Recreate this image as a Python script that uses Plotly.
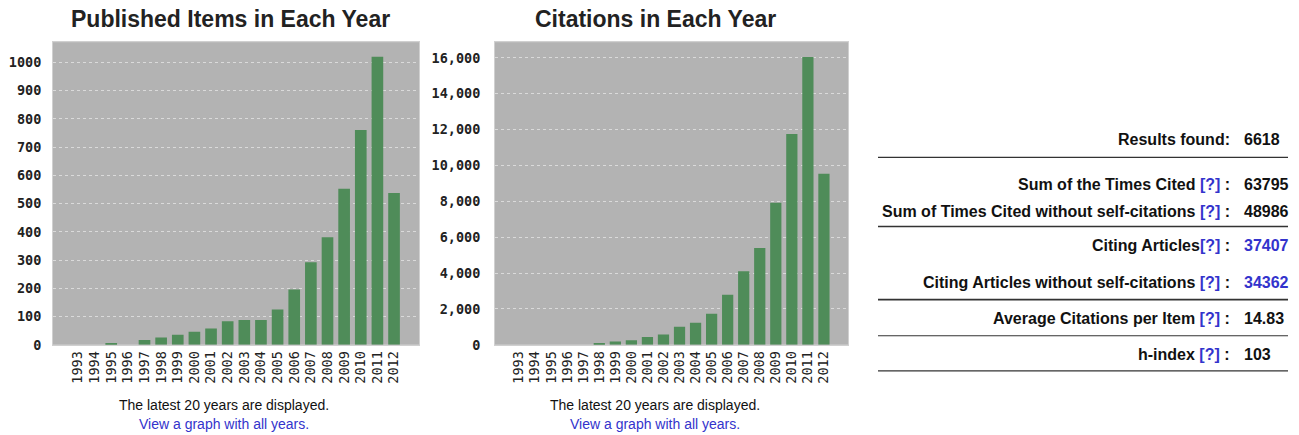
import plotly.graph_objects as go

W, H = 1299, 435
FIG_H = 444  # page is shown slightly compressed vertically; compensate

years = [str(y) for y in range(1993, 2013)]
published = [0, 0, 5, 0, 17, 26, 36, 46, 58, 83, 88, 88, 125, 196, 292, 381, 553, 761, 1020, 538]
citations = [0, 0, 0, 0, 0, 90, 186, 260, 428, 577, 1006, 1229, 1732, 2793, 4097, 5400, 7914, 11750, 16052, 9534]

chart_titles = ["Published Items in Each Year", "Citations in Each Year"]
note_text = "The latest 20 years are displayed."
link_text = "View a graph with all years."

stat_labels = ["Results found:", "Sum of the Times Cited [?] :",
               "Sum of Times Cited without self-citations [?] :",
               "Citing Articles[?] :", "Citing Articles without self-citations [?] :",
               "Average Citations per Item [?] :", "h-index [?] :"]
stat_values = ["6618", "63795", "48986", "37407", "34362", "14.83", "103"]
stat_value_colors = ["#111", "#111", "#111", "#3333cc", "#3333cc", "#111", "#111"]

def px(x):
    return x / W

def py(y):
    return 1 - y / H

BAR = "#4f8c59"
BG = "#b3b3b3"

fig = go.Figure()
fig.add_trace(go.Bar(x=years, y=published, marker=dict(color=BAR, line=dict(width=0)),
                     width=0.7, xaxis="x", yaxis="y", showlegend=False))
fig.add_trace(go.Bar(x=years, y=citations, marker=dict(color=BAR, line=dict(width=0)),
                     width=0.7, xaxis="x2", yaxis="y2", showlegend=False))

xcommon = dict(type="category", tickangle=-90, showgrid=False, ticks="", range=[-1.5, 20.5],
               tickmode="array", tickvals=years, ticktext=years,
               tickfont=dict(family="DejaVu Sans Mono", size=13.5, color="#222"),
               showline=True, linecolor="#d0d0d0", mirror=True, fixedrange=True)
ycommon = dict(showgrid=True, gridcolor="#dadada", griddash="dot", gridwidth=1, zeroline=False,
               tickfont=dict(family="DejaVu Sans Mono", size=13.5, color="#222", weight="bold"),
               showline=True, linecolor="#d0d0d0", mirror=True, ticks="", fixedrange=True)

fig.update_layout(
    width=W, height=FIG_H, margin=dict(l=0, r=0, t=0, b=0),
    paper_bgcolor="white", plot_bgcolor=BG, bargap=0.3,
    xaxis=dict(xcommon, domain=[px(53), px(419)], anchor="y"),
    yaxis=dict(ycommon, domain=[py(344), py(42)], range=[0, 1072], dtick=100, anchor="x",
               ticklabelstandoff=8),
    xaxis2=dict(xcommon, domain=[px(495), px(848)], anchor="y2"),
    yaxis2=dict(ycommon, domain=[py(344), py(42)], range=[0, 16877], dtick=2000,
                tickformat=",d", anchor="x2", ticklabelstandoff=11),
)

anns = []
for title, cx in zip(chart_titles, [230, 655]):
    anns.append(dict(text=title, x=px(cx), y=py(19), xref="paper", yref="paper",
                     showarrow=False, xanchor="center", yanchor="middle",
                     font=dict(family="Liberation Sans", size=23, color="#222", weight="bold")))
for cx in [224, 655]:
    anns.append(dict(text=note_text, x=px(cx), y=py(404), xref="paper", yref="paper",
                     showarrow=False, xanchor="center", yanchor="middle",
                     font=dict(family="Liberation Sans", size=14, color="#111")))
    anns.append(dict(text=link_text, x=px(cx), y=py(423), xref="paper", yref="paper",
                     showarrow=False, xanchor="center", yanchor="middle",
                     font=dict(family="Liberation Sans", size=14, color="#3333cc")))

row_y = [139, 184, 211, 245, 282, 318, 354]
for lab, val, vc, ry in zip(stat_labels, stat_values, stat_value_colors, row_y):
    lab_html = lab.replace("[?]", '<span style="color:#3333cc">[?]</span>')
    anns.append(dict(text=lab_html, x=px(1232), y=py(ry), xref="paper", yref="paper",
                     showarrow=False, xanchor="right", yanchor="middle",
                     font=dict(family="Liberation Sans", size=16, color="#111", weight="bold")))
    anns.append(dict(text=val, x=px(1242), y=py(ry), xref="paper", yref="paper",
                     showarrow=False, xanchor="left", yanchor="middle",
                     font=dict(family="Liberation Sans", size=16, color=vc, weight="bold")))

shapes = []
for ly, lw in [(157, 1.2), (226, 1.6), (299, 1.8), (335, 1.2), (370, 1.2)]:
    shapes.append(dict(type="line", xref="paper", yref="paper", x0=px(878), x1=px(1288),
                       y0=py(ly), y1=py(ly), line=dict(color="#333", width=lw)))

fig.update_layout(annotations=anns, shapes=shapes)
fig.write_html("out.html", config={"displayModeBar": False},
               post_script=("document.documentElement.style.margin='0';"
                            "document.documentElement.style.overflow='hidden';"
                            "document.body.style.margin='0';document.body.style.padding='0';"
                            "document.body.style.overflow='hidden';"))
